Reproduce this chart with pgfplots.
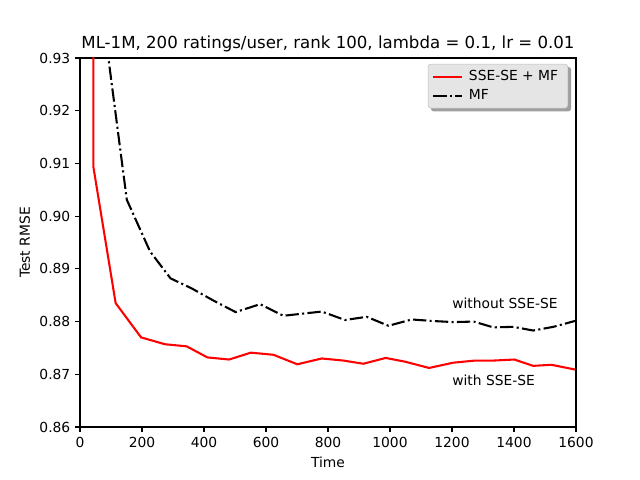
\documentclass[border=0pt]{standalone}
\usepackage{fontspec}
\setmainfont{DejaVu Sans}
\usepackage{pgfplots}
\pgfplotsset{compat=1.18}
\pgfdeclarelayer{background}
\pgfsetlayers{background,main}
\begin{document}
\begin{tikzpicture}
\begin{axis}[
  scale only axis,
  width=4.96in, height=3.69in,
  xmin=0, xmax=1600, ymin=0.86, ymax=0.93,
  xtick={0,200,...,1600},
  ytick={0.86,0.87,...,0.935},
  tick align=outside, xtick pos=bottom, ytick pos=left,
  major tick length=3.5pt,
  tick style={black, line width=0.8pt},
  axis line style={line width=0.8pt},
  tick label style={font=\fontsize{10}{12}\selectfont},
  label style={font=\fontsize{10}{12}\selectfont},
  /pgf/number format/assume math mode=true,
  yticklabel style={/pgf/number format/.cd, fixed, fixed zerofill, precision=2},
  xticklabel style={/pgf/number format/.cd, fixed, 1000 sep={}},
  scaled y ticks=false,
  xlabel={Time}, ylabel={Test RMSE},
  title={ML-1M, 200 ratings/user, rank 100, lambda = 0.1, lr = 0.01},
  title style={font=\fontsize{12}{14}\selectfont, yshift=-5pt},
  legend style={name=leg, at={(0.984,0.984)}, anchor=north east, fill=gray!20, draw=gray!50,
    rounded corners=2pt,
    font=\fontsize{10}{12}\selectfont, row sep=0pt, inner xsep=3pt, inner ysep=2pt,
    nodes={inner xsep=4pt, inner ysep=2.5pt}},
  legend cell align=left,
  legend image code/.code={\draw[#1] (0pt,0pt) -- (21pt,0pt);},
]
\addplot[red, line width=1.5pt] coordinates {
(43,1.0)(43,0.9094)(115,0.8835)(197,0.8770)(274,0.8757)(344,0.8753)(411,0.8732)(481,0.8728)(551,0.8741)(624,0.8737)(701,0.8719)(780,0.8730)(850,0.8726)(914,0.8720)(986,0.8731)(1048,0.8724)(1126,0.8712)(1204,0.8722)(1274,0.8726)(1333,0.8726)(1401,0.8728)(1462,0.8716)(1521,0.8718)(1597,0.8709)
};
\addlegendentry{SSE-SE + MF}
\addplot[black, line width=1.5pt, dash pattern=on 9.6pt off 2.4pt on 1.5pt off 2.4pt] coordinates {
(86,0.9325)(151,0.9031)(226,0.8933)(292,0.8882)(360,0.8863)(430,0.8840)(502,0.8818)(581,0.8833)(656,0.8811)(780,0.8819)(855,0.8803)(925,0.8809)(995,0.8792)(1070,0.8804)(1140,0.8801)(1205,0.8799)(1270,0.8800)(1333,0.8789)(1398,0.8790)(1462,0.8783)(1527,0.8790)(1602,0.8802)
};
\addlegendentry{MF}
\node[anchor=west, font=\fontsize{10}{12}\selectfont, inner sep=0pt] at (axis cs:1200,0.8835) {without SSE-SE};
\node[anchor=west, font=\fontsize{10}{12}\selectfont, inner sep=0pt] at (axis cs:1200,0.8689) {with SSE-SE};
\end{axis}
\begin{pgfonlayer}{background}
\fill[gray!75, rounded corners=2pt] ([xshift=2.2pt,yshift=-2.2pt]leg.south west) rectangle ([xshift=2.2pt,yshift=-2.2pt]leg.north east);
\end{pgfonlayer}
\pgfresetboundingbox
\useasboundingbox (-0.8in,-0.53in) rectangle (5.6in,4.27in);
\end{tikzpicture}
\end{document}
